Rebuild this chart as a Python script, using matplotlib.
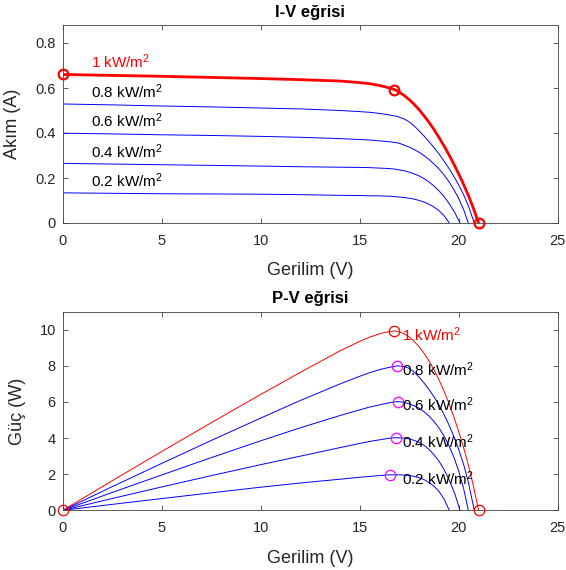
import numpy as np
import matplotlib
matplotlib.use("Agg")
import matplotlib.pyplot as plt

plt.rcParams['font.family'] = ['Liberation Sans', 'DejaVu Sans']
plt.rcParams['mathtext.fontset'] = 'custom'
plt.rcParams['mathtext.rm'] = 'Liberation Sans'
plt.rcParams['mathtext.it'] = 'Liberation Sans:italic'
plt.rcParams['mathtext.bf'] = 'Liberation Sans:bold'
plt.rcParams['mathtext.default'] = 'regular'

# Irradiance levels (kW/m^2) and measured I-V points of the PV module
irradiance = [1.0, 0.8, 0.6, 0.4, 0.2]
curve_labels = ['1 kW/m$^2$', '0.8 kW/m$^2$', '0.6 kW/m$^2$', '0.4 kW/m$^2$', '0.2 kW/m$^2$']

v_10 = [0, 2.5, 5, 7.5, 10, 12, 14, 15, 15.5, 16, 16.25, 16.5, 16.75, 16.82, 17, 17.25, 17.5,
        17.75, 18, 18.25, 18.5, 18.75, 19, 19.25, 19.5, 19.75, 20, 20.25, 20.5, 20.75, 21.0]
i_10 = [0.660, 0.656, 0.652, 0.647, 0.642, 0.637, 0.631, 0.624, 0.619, 0.611, 0.606, 0.600, 0.593, 0.5905, 0.581, 0.566, 0.548,
        0.527, 0.503, 0.476, 0.447, 0.415, 0.380, 0.343, 0.304, 0.262, 0.217, 0.170, 0.119, 0.062, 0.0]

v_08 = [0, 2.5, 5, 7.5, 10, 12, 14, 15, 15.5, 16, 16.5, 16.88, 17, 17.25, 17.5, 17.75, 18,
        18.25, 18.5, 18.75, 19, 19.25, 19.5, 19.75, 20, 20.25, 20.5, 20.78]
i_08 = [0.529, 0.525, 0.520, 0.516, 0.511, 0.507, 0.500, 0.495, 0.492, 0.487, 0.480, 0.474, 0.470, 0.462, 0.449, 0.431, 0.409,
        0.386, 0.361, 0.335, 0.307, 0.276, 0.243, 0.207, 0.168, 0.124, 0.072, 0.0]

v_06 = [0, 2.5, 5, 7.5, 10, 12, 14, 15, 15.5, 16, 16.5, 16.92, 17, 17.25, 17.5, 17.75, 18,
        18.25, 18.5, 18.75, 19, 19.25, 19.5, 19.75, 20, 20.25, 20.48]
i_06 = [0.399, 0.396, 0.392, 0.389, 0.385, 0.381, 0.375, 0.371, 0.369, 0.365, 0.361, 0.356, 0.354, 0.346, 0.337, 0.326, 0.314,
        0.299, 0.282, 0.262, 0.240, 0.214, 0.184, 0.149, 0.108, 0.058, 0.0]

v_04 = [0, 2.5, 5, 7.5, 10, 12, 14, 15, 15.5, 16, 16.5, 16.82, 17, 17.25, 17.5, 17.75, 18,
        18.25, 18.5, 18.75, 19, 19.25, 19.5, 19.8, 20.06]
i_04 = [0.265, 0.262, 0.259, 0.256, 0.253, 0.250, 0.248, 0.247, 0.246, 0.244, 0.242, 0.239, 0.236, 0.232, 0.226, 0.218, 0.209,
        0.197, 0.182, 0.164, 0.143, 0.118, 0.088, 0.046, 0.0]

v_02 = [0, 2.5, 5, 7.5, 10, 12, 14, 15, 15.5, 16, 16.52, 17, 17.25, 17.5, 17.75, 18,
        18.25, 18.5, 18.75, 19, 19.25, 19.52]
i_02 = [0.134, 0.132, 0.130, 0.129, 0.128, 0.126, 0.123, 0.122, 0.121, 0.1205, 0.119, 0.1155, 0.113, 0.110, 0.106, 0.100,
        0.093, 0.083, 0.071, 0.055, 0.033, 0.0]

voltages = [v_10, v_08, v_06, v_04, v_02]
currents = [i_10, i_08, i_06, i_04, i_02]

W, H = 566, 570
fig = plt.figure(figsize=(W / 100, H / 100), dpi=100)

AX_COLOR = '#404040'
TXT_COLOR = '#262626'


def frame(ax):
    for s in ax.spines.values():
        s.set_color(AX_COLOR)
        s.set_linewidth(0.6)
    ax.tick_params(direction='in', top=True, right=True, length=3.5, width=0.6,
                   colors=AX_COLOR, labelcolor=TXT_COLOR, labelsize=10.5)
    ax.tick_params(axis='x', pad=8)
    ax.tick_params(axis='y', pad=5)
    ax.set_xlim(0, 25)
    ax.set_xticks([0, 5, 10, 15, 20, 25])


# ---- I-V curves ----
ax1 = fig.add_axes([62.8 / W, 1 - 223 / H, 495 / W, 198 / H])
frame(ax1)
for g, v, i, lab in zip(irradiance, voltages, currents, curve_labels):
    v = np.asarray(v)
    i = np.asarray(i)
    if g == 1.0:
        ax1.plot(v, i, color='#ff0000', lw=2.0, zorder=3, solid_joinstyle='round')
        k = np.argmax(v * i)
        ax1.plot([v[0], v[k], v[-1]], [i[0], i[k], i[-1]], 'o', ms=7, mfc='none',
                 mec='#ff0000', mew=1.6, zorder=4, clip_on=False)
        ax1.text(1.4, i[0] + 0.057, lab, color='#ff0000', fontsize=11, va='center', ha='left')
    else:
        ax1.plot(v, i, color='#0000ff', lw=0.7, zorder=2)
        ax1.text(1.4, i[0] + 0.054, lab, color='#000000', fontsize=11, va='center', ha='left')
ax1.set_ylim(0, 0.88)
ax1.set_yticks([0, 0.2, 0.4, 0.6, 0.8])
ax1.set_yticklabels(['0', '0.2', '0.4', '0.6', '0.8'])
ax1.set_title('I-V eğrisi', fontsize=12, fontweight='bold', color='#000000', pad=6)
ax1.set_xlabel('Gerilim (V)', fontsize=13, color=TXT_COLOR)
ax1.set_ylabel('Akım (A)', fontsize=13, color=TXT_COLOR)
ax1.xaxis.set_label_coords(0.5, -39 / 198)
ax1.yaxis.set_label_coords(-41.5 / 495, 0.5)

# ---- P-V curves ----
ax2 = fig.add_axes([62.8 / W, 1 - 510.3 / H, 495 / W, 198.6 / H])
frame(ax2)
for g, v, i, lab in zip(irradiance, voltages, currents, curve_labels):
    v = np.asarray(v)
    p = v * np.asarray(i)
    k = np.argmax(p)
    if g == 1.0:
        ax2.plot(v, p, color='#ff0000', lw=0.7, zorder=3)
        ax2.plot([v[0], v[k], v[-1]], [p[0], p[k], p[-1]], 'o', ms=7.5, mfc='none',
                 mec='#ff0000', mew=0.9, zorder=4, clip_on=False)
        ax2.text(17.15, p[k] - 0.2, lab, color='#ff0000', fontsize=11, va='center', ha='left', zorder=5)
    else:
        ax2.plot(v, p, color='#0000ff', lw=0.7, zorder=2)
        ax2.plot([v[k]], [p[k]], 'o', ms=7.5, mfc='none', mec='#ff00ff', mew=0.9, zorder=4)
        ax2.text(17.15, p[k] - 0.2, lab, color='#000000', fontsize=11, va='center', ha='left', zorder=5)
ax2.set_ylim(0, 11)
ax2.set_yticks([0, 2, 4, 6, 8, 10])
ax2.set_title('P-V eğrisi', fontsize=12, fontweight='bold', color='#000000', pad=6)
ax2.set_xlabel('Gerilim (V)', fontsize=13, color=TXT_COLOR)
ax2.set_ylabel('Güç (W)', fontsize=13, color=TXT_COLOR)
ax2.xaxis.set_label_coords(0.5, -40 / 198.6)
ax2.yaxis.set_label_coords(-37 / 495, 0.5)

fig.savefig('out.png', dpi=100)
